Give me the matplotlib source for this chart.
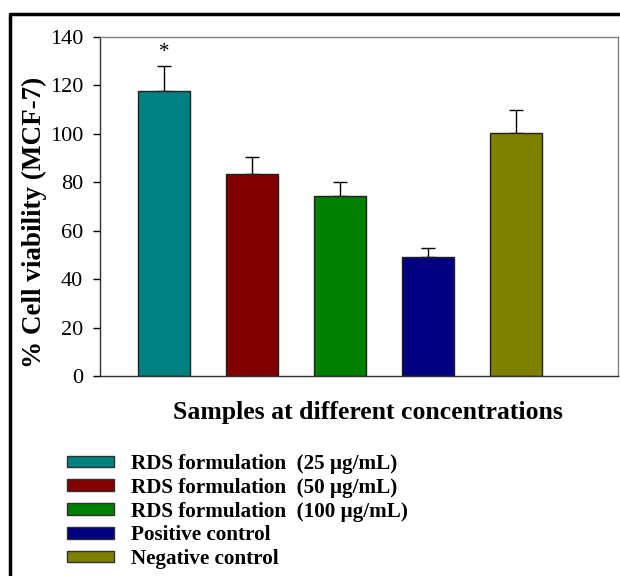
import matplotlib
matplotlib.use("Agg")
import matplotlib.pyplot as plt
from matplotlib.lines import Line2D
from matplotlib.patches import Patch

plt.rcParams['font.family'] = ['Liberation Serif', 'DejaVu Serif']

# data
labels = ["RDS formulation  (25 \u00b5g/mL)",
          "RDS formulation  (50 \u00b5g/mL)",
          "RDS formulation  (100 \u00b5g/mL)",
          "Positive control",
          "Negative control"]
viability = [117.8, 83.5, 74.3, 49.2, 100.5]
sd = [10.2, 7.1, 5.8, 3.8, 9.2]
colors = ["#008080", "#800000", "#008000", "#000080", "#808000"]
yticks = [0, 20, 40, 60, 80, 100, 120, 140]

fig = plt.figure(figsize=(6.2, 5.76), dpi=100)
ax = fig.add_axes([100/620, 1 - 376/576, 518/620, 339/576])

x = list(range(len(viability)))
ax.bar(x, viability, width=0.6, color=colors, edgecolor='#202020', linewidth=1.0, zorder=2)
ax.errorbar(x, viability, yerr=[[0]*len(sd), sd], fmt='none', ecolor='black',
            elinewidth=1.0, capsize=5, capthick=1.0, zorder=1)
ax.text(0, viability[0] + sd[0] + 1.5, "*", ha='center', va='bottom', fontsize=15)

ax.set_xlim(-0.727, 5.16)
ax.set_ylim(0, 140)
ax.set_yticks(yticks)
ax.set_xticks([])
ax.tick_params(axis='y', direction='out', length=5, width=1, labelsize=16, pad=7)
for s in ax.spines.values():
    s.set_linewidth(1.0)
    s.set_color('#303030')
ax.spines['top'].set_color('#808080')
ax.spines['right'].set_color('#808080')

ax.set_ylabel("% Cell viability (MCF-7)", fontsize=19.5, fontweight='bold')
ax.yaxis.set_label_coords(-53/518, 0.454)
fig.text(368/620, 1 - 412/576, "Samples at different concentrations", ha='center', va='center',
         fontsize=18.5, fontweight='bold')

handles = [Patch(facecolor=c, edgecolor='#303030', linewidth=1.0) for c in colors]
fig.legend(handles, labels, loc='upper left', bbox_to_anchor=(58.5/620, 1 - 445.5/576),
           frameon=False, prop={'weight': 'bold', 'size': 15.2}, handlelength=2.23,
           handleheight=0.47, handletextpad=0.8, labelspacing=0.18, borderaxespad=0)

# outer frame (left and top edges only)
fig.add_artist(Line2D([10/620, 10/620, 1], [0, 1 - 14/576, 1 - 14/576],
                      transform=fig.transFigure, color='black', linewidth=2.5))

fig.savefig("out.png", dpi=100)
